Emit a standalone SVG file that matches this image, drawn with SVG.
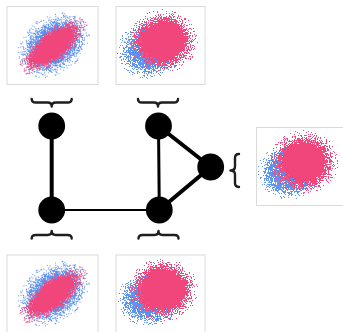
<svg xmlns="http://www.w3.org/2000/svg" xmlns:xlink="http://www.w3.org/1999/xlink" width="343" height="332" viewBox="0 0 343 332">
  <style>
    .frame { fill: #ffffff; stroke: #dadada; stroke-width: 1; }
    .node { fill: #000000; }
    .edge { stroke: #000000; stroke-linecap: round; fill: none; }
    .brace { fill: none; stroke: #1e1e1e; stroke-width: 2.4; stroke-linecap: round; stroke-linejoin: round; }
  </style>
  <defs>
    <!-- stippling: a smooth density field is dithered against fine noise kept inside [0.02, 0.98] -->
    <filter id="stipBlue" color-interpolation-filters="sRGB" x="-5%" y="-5%" width="110%" height="110%">
      <feTurbulence type="fractalNoise" baseFrequency="0.87" numOctaves="2" seed="4" result="noise"/>
      <feColorMatrix in="noise" type="matrix" values="0 0 0 0 0  0 0 0 0 0  0 0 0 0 0  3 0 0 0 -1" result="n0"/>
      <feComponentTransfer in="n0" result="n"><feFuncA type="linear" slope="0.96" intercept="0.02"/></feComponentTransfer>
      <feComposite in="SourceAlpha" in2="n" operator="arithmetic" k1="0" k2="1" k3="-1" k4="0.5" result="d"/>
      <feComponentTransfer in="d" result="mask"><feFuncA type="discrete" tableValues="0 1"/></feComponentTransfer>
      <feFlood flood-color="#4a86ef"/>
      <feComposite in2="mask" operator="in"/>
    </filter>
    <filter id="stipPink" color-interpolation-filters="sRGB" x="-5%" y="-5%" width="110%" height="110%">
      <feTurbulence type="fractalNoise" baseFrequency="0.91" numOctaves="2" seed="11" result="noise"/>
      <feColorMatrix in="noise" type="matrix" values="0 0 0 0 0  0 0 0 0 0  0 0 0 0 0  3 0 0 0 -1" result="n0"/>
      <feComponentTransfer in="n0" result="n"><feFuncA type="linear" slope="0.96" intercept="0.02"/></feComponentTransfer>
      <feComposite in="SourceAlpha" in2="n" operator="arithmetic" k1="0" k2="1" k3="-1" k4="0.5" result="d"/>
      <feComponentTransfer in="d" result="mask"><feFuncA type="discrete" tableValues="0 1"/></feComponentTransfer>
      <feFlood flood-color="#f1467b"/>
      <feComposite in2="mask" operator="in"/>
    </filter>

    <radialGradient id="densBlue">
      <stop offset="0" stop-color="#000" stop-opacity="1"/>
      <stop offset="0.45" stop-color="#000" stop-opacity="0.95"/>
      <stop offset="0.7" stop-color="#000" stop-opacity="0.55"/>
      <stop offset="0.88" stop-color="#000" stop-opacity="0.15"/>
      <stop offset="1" stop-color="#000" stop-opacity="0"/>
    </radialGradient>
    <radialGradient id="densPink">
      <stop offset="0" stop-color="#000" stop-opacity="1"/>
      <stop offset="0.58" stop-color="#000" stop-opacity="1"/>
      <stop offset="0.72" stop-color="#000" stop-opacity="0.6"/>
      <stop offset="0.88" stop-color="#000" stop-opacity="0.15"/>
      <stop offset="1" stop-color="#000" stop-opacity="0"/>
    </radialGradient>

    <!-- correlated pair: both clouds tilted along the diagonal -->
    <g id="scatterCorr">
      <rect class="frame" x="0.5" y="0.5" width="91" height="78"/>
      <g transform="translate(47 39) rotate(-36)">
        <ellipse rx="40" ry="29" fill="url(#densBlue)" filter="url(#stipBlue)" opacity="0.88"/>
      </g>
      <g transform="translate(46.5 40) rotate(-38)">
        <ellipse rx="42" ry="17" fill="url(#densPink)" filter="url(#stipPink)"/>
      </g>
    </g>

    <!-- independent pair: round clouds, slightly offset -->
    <g id="scatterInd">
      <rect class="frame" x="0.5" y="0.5" width="89" height="78"/>
      <ellipse cx="33" cy="45" rx="32" ry="28" fill="url(#densBlue)" filter="url(#stipBlue)" opacity="0.88"/>
      <ellipse cx="48" cy="35" rx="35" ry="32" fill="url(#densPink)" filter="url(#stipPink)"/>
    </g>
  </defs>

  <g id="plot-top-left"><use xlink:href="#scatterCorr" x="6.5" y="6"/></g>
  <g id="plot-top-right"><use xlink:href="#scatterInd" x="115.5" y="6"/></g>
  <g id="plot-side"><use xlink:href="#scatterInd" x="256" y="127"/></g>
  <g id="plot-bottom-left"><use xlink:href="#scatterCorr" x="6.5" y="254.5"/></g>
  <g id="plot-bottom-right"><use xlink:href="#scatterInd" x="115.5" y="254.5"/></g>

  <g id="connectors">
    <line class="edge" x1="51.7" y1="126" x2="51.7" y2="210" stroke-width="4"/>
    <line class="edge" x1="158.5" y1="126" x2="159.3" y2="210" stroke-width="3"/>
    <line class="edge" x1="158.5" y1="126" x2="210.7" y2="167" stroke-width="4"/>
    <line class="edge" x1="210.7" y1="167" x2="159.3" y2="210" stroke-width="4"/>
    <line class="edge" x1="51.7" y1="210" x2="159.3" y2="210" stroke-width="2"/>
  </g>

  <g id="braces">
    <path class="brace" d="M31.7,99 Q31.7,102.5 35.7,102.5 L47.7,102.5 Q51.7,102.5 51.7,106.5 Q51.7,102.5 55.7,102.5 L67.7,102.5 Q71.7,102.5 71.7,99"/>
    <path class="brace" d="M138,99 Q138,102.5 142,102.5 L154,102.5 Q158,102.5 158,106.5 Q158,102.5 162,102.5 L174,102.5 Q178,102.5 178,99"/>
    <path class="brace" d="M31.7,238.5 Q31.7,235 35.7,235 L47.7,235 Q51.7,235 51.7,231 Q51.7,235 55.7,235 L67.7,235 Q71.7,235 71.7,238.5"/>
    <path class="brace" d="M138.5,238.5 Q138.5,235 142.5,235 L154.5,235 Q158.5,235 158.5,231 Q158.5,235 162.5,235 L174.5,235 Q178.5,235 178.5,238.5"/>
    <path class="brace" d="M239,154 Q235,154 235,158 L235,166.5 Q235,170.5 230.5,170.5 Q235,170.5 235,174.5 L235,183 Q235,187 239,187"/>
  </g>

  <g id="node-a"><circle class="node" cx="51.7" cy="126" r="13.4"/></g>
  <g id="node-b"><circle class="node" cx="158.5" cy="126" r="13.4"/></g>
  <g id="node-c"><circle class="node" cx="210.7" cy="167" r="13.4"/></g>
  <g id="node-d"><circle class="node" cx="51.7" cy="210" r="13.4"/></g>
  <g id="node-e"><circle class="node" cx="159.3" cy="210" r="13.4"/></g>
</svg>
